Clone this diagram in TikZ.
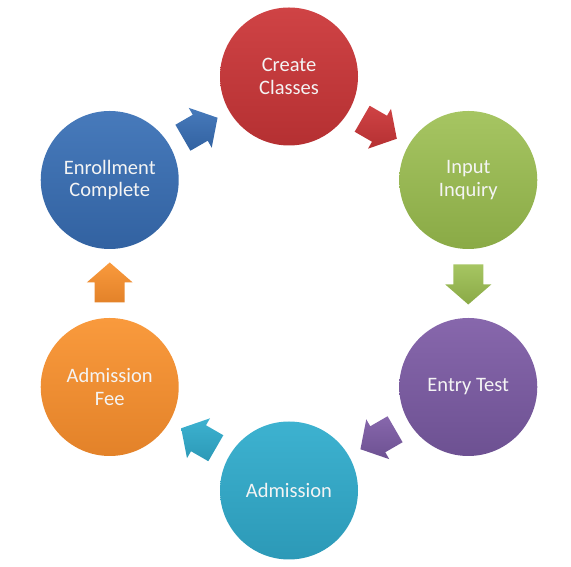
\documentclass[tikz,border=0pt]{standalone}
\usepackage{fontspec}
\setmainfont{Carlito}
\usetikzlibrary{calc}
\definecolor{redT}{HTML}{CF4345}\definecolor{redB}{HTML}{B53032}
\definecolor{grnT}{HTML}{A6C562}\definecolor{grnB}{HTML}{8AAA46}
\definecolor{purT}{HTML}{8767AC}\definecolor{purB}{HTML}{6D5192}
\definecolor{tealT}{HTML}{3DB2D0}\definecolor{tealB}{HTML}{2C99B7}
\definecolor{orT}{HTML}{F99A3D}\definecolor{orB}{HTML}{E38229}
\definecolor{blT}{HTML}{477ABB}\definecolor{blB}{HTML}{3262A1}
\definecolor{txt}{HTML}{F4F4F4}
\tikzset{
  stagecircle/.style={circle, minimum size=138pt, inner sep=0pt, text=txt,
    font=\fontsize{20.5}{22.5}\selectfont, align=center},
  blockarrow/.pic={\path[pic actions] (-19,-15) -- (1,-15) -- (1,-23) -- (21,0) -- (1,23) -- (1,15) -- (-19,15) -- cycle;}
}
\begin{document}
\begin{tikzpicture}[x=1pt,y=1pt]
\useasboundingbox (0,0) rectangle (571,567);
\coordinate (ctr) at (289,283.5);
\node[stagecircle, top color=redT, bottom color=redB] (cc) at ($(ctr)+(90:207)$) {Create\\Classes};
\node[stagecircle, top color=grnT, bottom color=grnB] (ii) at ($(ctr)+(30:207)$) {Input\\Inquiry};
\node[stagecircle, top color=purT, bottom color=purB] (et) at ($(ctr)+(-30:207)$) {Entry Test};
\node[stagecircle, top color=tealT, bottom color=tealB] (ad) at ($(ctr)+(-90:207)$) {Admission};
\node[stagecircle, top color=orT, bottom color=orB] (af) at ($(ctr)+(-150:207)$) {Admission\\Fee};
\node[stagecircle, top color=blT, bottom color=blB] (ec) at ($(ctr)+(150:207)$) {Enrollment\\Complete};
\pic[top color=redT, bottom color=redB, rotate=-30] at ($(cc)!0.5!(ii)$) {blockarrow};
\pic[top color=grnT, bottom color=grnB, rotate=-90] at ($(ii)!0.5!(et)$) {blockarrow};
\pic[top color=purT, bottom color=purB, rotate=-150] at ($(et)!0.5!(ad)$) {blockarrow};
\pic[top color=tealT, bottom color=tealB, rotate=150] at ($(ad)!0.5!(af)$) {blockarrow};
\pic[top color=orT, bottom color=orB, rotate=90] at ($(af)!0.5!(ec)$) {blockarrow};
\pic[top color=blT, bottom color=blB, rotate=30] at ($(ec)!0.5!(cc)$) {blockarrow};
\end{tikzpicture}
\end{document}
